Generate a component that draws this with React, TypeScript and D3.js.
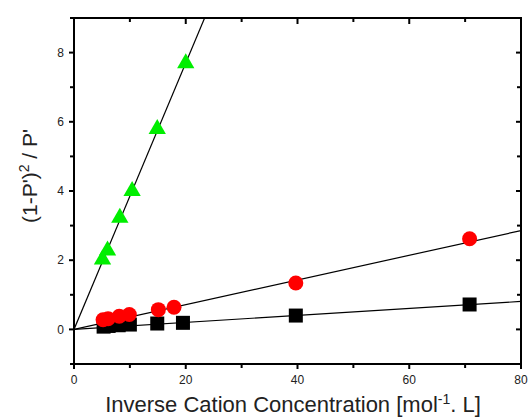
import React from 'react';
import * as d3 from 'd3';

const triX = [5.1, 6.0, 8.2, 10.4, 14.9, 20.0];
const triY = [2.02, 2.28, 3.23, 4.0, 5.79, 7.69];
const circX = [5.2, 6.1, 8.1, 9.9, 15.1, 17.9, 39.7, 70.8];
const circY = [0.28, 0.31, 0.38, 0.43, 0.57, 0.64, 1.34, 2.62];
const sqX = [5.3, 6.2, 8.0, 10.0, 14.9, 19.5, 39.7, 70.8];
const sqY = [0.08, 0.1, 0.12, 0.14, 0.17, 0.19, 0.4, 0.72];
// fitted line slopes (through origin)
const fitSlopes = [0.385, 0.0357, 0.0101];

const xTicks = [0, 20, 40, 60, 80];
const xMinor = [10, 30, 50, 70];
const yTicks = [0, 2, 4, 6, 8];
const yMinor = [-1, 1, 3, 5, 7, 9];

const W = 530;
const H = 419;
const margin = { top: 18, right: 9, bottom: 55, left: 74 };

const App = () => {
  const x = d3.scaleLinear().domain([0, 80]).range([margin.left, W - margin.right]);
  const y = d3.scaleLinear().domain([-1, 9]).range([H - margin.bottom, margin.top]);
  const x0 = x(0), x1 = x(80), y0 = y(-1), y1 = y(9);

  // fitted line endpoints, clipped to the frame
  const lineEnd = (k: number) => {
    const xe = Math.min(80, 9 / k);
    return [x(xe), y(k * xe)];
  };

  const tri = d3.symbol().type(d3.symbolTriangle).size(130)();
  const font = 'Liberation Sans, Arial, sans-serif';

  return (
    <svg width={W} height={H} style={{ position: 'absolute', left: 0, top: 0 }} fontFamily={font}>
      <rect width={W} height={H} fill="white" />
      <defs>
        <clipPath id="plot">
          <rect x={x0} y={y1} width={x1 - x0} height={y0 - y1} />
        </clipPath>
      </defs>

      <g clipPath="url(#plot)">
        {fitSlopes.map((k, i) => {
          const [ex, ey] = lineEnd(k);
          return <line key={i} x1={x(0)} y1={y(0)} x2={ex} y2={ey} stroke="black" strokeWidth={1.2} />;
        })}
      </g>

      {sqX.map((v, i) => (
        <rect key={'s' + i} x={x(v) - 7} y={y(sqY[i]) - 7} width={14} height={14} fill="black" />
      ))}
      {circX.map((v, i) => (
        <circle key={'c' + i} cx={x(v)} cy={y(circY[i])} r={7.5} fill="#ff0000" />
      ))}
      {triX.map((v, i) => (
        <path key={'t' + i} d={tri!} transform={`translate(${x(v)},${y(triY[i])})`} fill="#00ee00" />
      ))}

      {/* frame */}
      <rect x={x0} y={y1} width={x1 - x0} height={y0 - y1} fill="none" stroke="black" strokeWidth={2} />

      {/* bottom axis: ticks outward, top axis: ticks inward */}
      {xTicks.map(t => (
        <g key={'xb' + t}>
          <line x1={x(t)} x2={x(t)} y1={y0} y2={y0 + 5} stroke="black" strokeWidth={2} />
          <line x1={x(t)} x2={x(t)} y1={y1} y2={y1 + 6} stroke="black" strokeWidth={2} />
          <text x={x(t)} y={y0 + 20} textAnchor="middle" fontSize={12} fill="#222">{t}</text>
        </g>
      ))}
      {xMinor.map(t => (
        <g key={'xm' + t}>
          <line x1={x(t)} x2={x(t)} y1={y0} y2={y0 + 4} stroke="black" strokeWidth={2} />
          <line x1={x(t)} x2={x(t)} y1={y1} y2={y1 + 4} stroke="black" strokeWidth={2} />
        </g>
      ))}

      {/* left axis: ticks outward, right axis: ticks inward */}
      {yTicks.map(t => (
        <g key={'yt' + t}>
          <line x1={x0} x2={x0 - 5} y1={y(t)} y2={y(t)} stroke="black" strokeWidth={2} />
          <line x1={x1} x2={x1 - 5} y1={y(t)} y2={y(t)} stroke="black" strokeWidth={2} />
          <text x={x0 - 10} y={y(t)} dy="0.35em" textAnchor="end" fontSize={12} fill="#222">{t}</text>
        </g>
      ))}
      {yMinor.map(t => (
        <g key={'ym' + t}>
          <line x1={x0} x2={x0 - 4} y1={y(t)} y2={y(t)} stroke="black" strokeWidth={2} />
          <line x1={x1} x2={x1 - 4} y1={y(t)} y2={y(t)} stroke="black" strokeWidth={2} />
        </g>
      ))}

      <text x={293} y={412} textAnchor="middle" fontSize={22} fill="#222">
        Inverse Cation Concentration [mol<tspan dy={-8} fontSize={14}>-1</tspan><tspan dy={8}>. L]</tspan>
      </text>
      <text transform={`translate(37,${176}) rotate(-90)`} textAnchor="middle" fontSize={21} fill="#222">
        (1-P')<tspan dy={-8} fontSize={14}>2</tspan><tspan dy={8}> / P'</tspan>
      </text>
    </svg>
  );
};

export default App;
